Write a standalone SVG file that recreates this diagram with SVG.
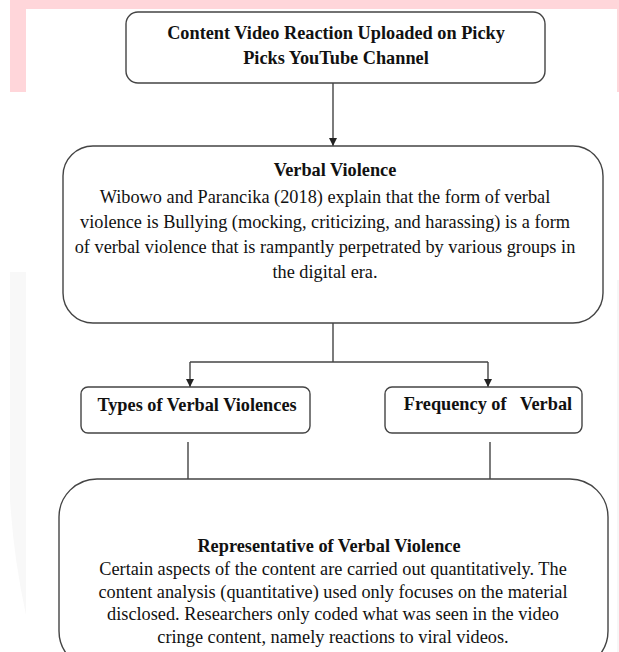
<svg xmlns="http://www.w3.org/2000/svg" width="619" height="652" viewBox="0 0 619 652">
<style>
.box{fill:#fff;stroke:#444;stroke-width:1.4}
.t{font-family:"Liberation Serif","Times New Roman",Times,serif;fill:#111;text-anchor:middle;font-size:18.3px}
.b{font-weight:bold}
.c{fill:none;stroke:#444;stroke-width:1.4}
</style>
<defs>
<marker id="ah" markerWidth="8" markerHeight="8" refX="8" refY="4" orient="auto" markerUnits="userSpaceOnUse">
<path d="M0,0 L8,4 L0,8 Z" fill="#222"/>
</marker>
</defs>
<rect width="619" height="652" fill="#fff"/>
<g id="background">
<rect x="10" y="0" width="609" height="9" fill="#ffd6da"/>
<rect x="10" y="0" width="16" height="92" fill="#ffd6da"/>
<rect x="617" y="0" width="2" height="92" fill="#ffd6da"/>
<path d="M10,272 H26 V615 Q14,560 10,500 Z" fill="#f8f8f8"/>
<rect x="617" y="280" width="2" height="372" fill="#f7f7f7"/>
</g>
<g id="connectors">
<line class="c" x1="333" y1="83" x2="333" y2="146" marker-end="url(#ah)"/>
<polyline class="c" points="333,323 333,362"/>
<polyline class="c" points="190,362 488,362"/>
<line class="c" x1="190" y1="362" x2="190" y2="387" marker-end="url(#ah)"/>
<line class="c" x1="488" y1="362" x2="488" y2="387" marker-end="url(#ah)"/>
<line class="c" x1="188" y1="442" x2="188" y2="479"/>
<line class="c" x1="490" y1="442" x2="490" y2="479"/>
</g>
<g id="node-top">
<rect class="box" x="126" y="12" width="419" height="71" rx="12"/>
<text class="t b" x="336" y="39">Content Video Reaction Uploaded on Picky</text>
<text class="t b" x="336" y="64">Picks YouTube Channel</text>
</g>
<g id="node-verbal">
<rect class="box" x="63" y="146" width="540" height="177" rx="30"/>
<text class="t b" x="335" y="176">Verbal Violence</text>
<text class="t" x="325" y="203">Wibowo and Parancika (2018) explain that the form of verbal</text>
<text class="t" x="325" y="228">violence is Bullying (mocking, criticizing, and harassing) is a form</text>
<text class="t" x="325" y="253">of verbal violence that is rampantly perpetrated by various groups in</text>
<text class="t" x="325" y="278">the digital era.</text>
</g>
<g id="node-types">
<rect class="box" x="81" y="387" width="229" height="46" rx="7"/>
<text class="t b" x="197" y="411">Types of Verbal Violences</text>
</g>
<g id="node-frequency">
<rect class="box" x="385" y="387" width="197" height="46" rx="7"/>
<text class="t b" x="488" y="410" xml:space="preserve">Frequency of   Verbal</text>
</g>
<g id="node-representative">
<rect class="box" x="59" y="479" width="549" height="190" rx="38"/>
<text class="t b" x="329" y="552">Representative of Verbal Violence</text>
<text class="t" x="333" y="575">Certain aspects of the content are carried out quantitatively. The</text>
<text class="t" x="333" y="598">content analysis (quantitative) used only focuses on the material</text>
<text class="t" x="333" y="620">disclosed. Researchers only coded what was seen in the video</text>
<text class="t" x="333" y="643">cringe content, namely reactions to viral videos.</text>
</g>
</svg>
